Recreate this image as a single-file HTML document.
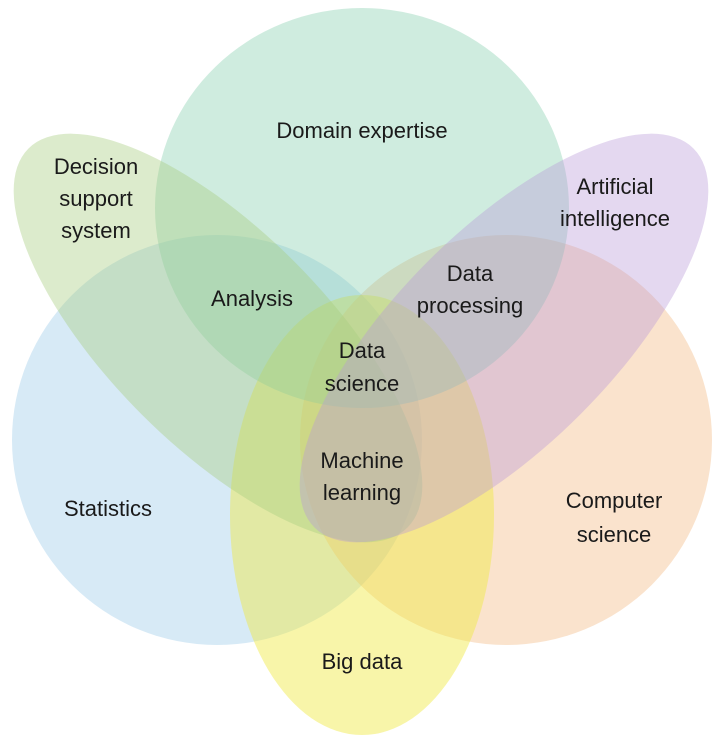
<!DOCTYPE html>
<html><head><style>
body{margin:0;background:#fff}
svg text{font-family:"Liberation Sans",sans-serif;font-size:22px;fill:#1a1a1a}
</style></head><body>
<svg width="721" height="743" viewBox="0 0 721 743">
<g>
<ellipse cx="217" cy="440" rx="205" ry="205" fill="#8cc4e4" fill-opacity="0.35"/>
<ellipse cx="506" cy="440" rx="206" ry="205" fill="#f0b070" fill-opacity="0.35"/>
<ellipse cx="362" cy="515" rx="132" ry="220" fill="#f0e840" fill-opacity="0.45"/>
<ellipse cx="362" cy="208" rx="207" ry="200" fill="#80ccaa" fill-opacity="0.38"/>
<ellipse cx="218" cy="338" rx="268" ry="108" transform="rotate(45 218 338)" fill="#a8cc80" fill-opacity="0.4"/>
<ellipse cx="504" cy="338" rx="268" ry="108" transform="rotate(-45 504 338)" fill="#b898d8" fill-opacity="0.38"/>
</g>
<text x="362" y="138" text-anchor="middle">Domain expertise</text>
<text x="96" y="174" text-anchor="middle">Decision</text>
<text x="96" y="206" text-anchor="middle">support</text>
<text x="96" y="238" text-anchor="middle">system</text>
<text x="615" y="194" text-anchor="middle">Artificial</text>
<text x="615" y="226" text-anchor="middle">intelligence</text>
<text x="252" y="306" text-anchor="middle">Analysis</text>
<text x="470" y="281" text-anchor="middle">Data</text>
<text x="470" y="313" text-anchor="middle">processing</text>
<text x="362" y="358" text-anchor="middle">Data</text>
<text x="362" y="391" text-anchor="middle">science</text>
<text x="362" y="468" text-anchor="middle">Machine</text>
<text x="362" y="500" text-anchor="middle">learning</text>
<text x="108" y="516" text-anchor="middle">Statistics</text>
<text x="614" y="508" text-anchor="middle">Computer</text>
<text x="614" y="542" text-anchor="middle">science</text>
<text x="362" y="669" text-anchor="middle">Big data</text>
</svg>
</body></html>
